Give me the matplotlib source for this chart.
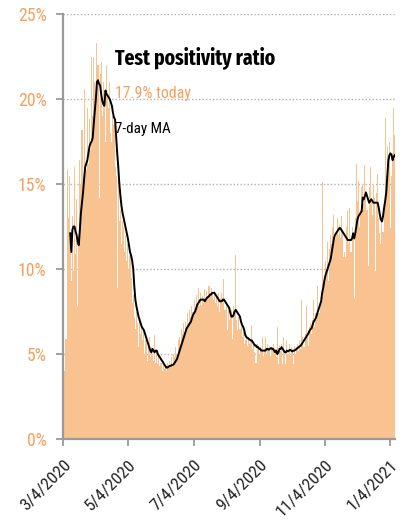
import os
import matplotlib
matplotlib.use("Agg")
import matplotlib.pyplot as plt
import matplotlib.transforms as mtransforms
from matplotlib import font_manager as fm
import numpy as np
import pandas as pd

# ---------------- data ----------------
start_date = "2020-03-04"

daily_pct = [
    17.0, 4.0, 5.9, 15.9, 13.0, 15.5, 11.0,
    9.3, 13.1, 9.9, 16.0, 10.9, 14.1, 7.8,
    12.0, 16.4, 15.0, 18.2, 14.5, 20.6, 16.0,
    15.8, 19.5, 16.2, 18.8, 17.0, 22.5, 19.0,
    22.5, 21.0, 20.0, 23.3, 22.0, 14.2, 21.5,
    22.2, 19.0, 21.0, 20.5, 17.5, 22.0, 20.2,
    19.5, 21.0, 18.0, 17.5, 19.0, 18.5, 16.0,
    15.5, 8.9, 16.0, 12.8, 13.5, 11.5, 12.8,
    12.5, 11.0, 12.0, 10.5, 11.5, 10.0, 10.8,
    9.5, 8.0, 8.5, 7.2, 6.5, 7.5, 6.8,
    5.4, 7.0, 6.2, 6.6, 5.8, 6.4, 5.0,
    5.8, 4.6, 5.5, 6.0, 4.8, 5.4, 5.0,
    4.6, 6.1, 4.5, 5.2, 4.4, 5.0, 4.3,
    4.5, 4.0, 4.6, 4.1, 4.3, 4.0, 4.5,
    4.2, 4.6, 4.3, 4.8, 4.4, 5.0, 4.8,
    5.4, 5.0, 5.8, 6.0, 5.6, 6.5, 6.2,
    6.8, 6.3, 6.9, 6.5, 7.4, 6.8, 7.6,
    7.2, 7.8, 7.5, 8.2, 7.6, 8.5, 8.0,
    8.9, 7.8, 8.6, 7.9, 8.4, 8.0, 8.8,
    8.2, 8.7, 8.3, 9.0, 8.4, 8.9, 8.6,
    8.2, 8.7, 8.0, 8.4, 7.8, 8.6, 7.5,
    8.3, 8.6, 8.0, 9.4, 7.6, 8.0, 6.4,
    7.8, 7.0, 7.4, 7.6, 5.9, 7.8, 7.3,
    10.8, 7.0, 6.4, 7.2, 6.5, 6.8, 6.0,
    6.3, 5.6, 5.8, 6.2, 5.5, 6.0, 5.6,
    5.9, 6.7, 5.3, 5.7, 5.1, 4.5, 5.6,
    5.5, 5.0, 5.4, 5.1, 6.0, 4.9, 5.3,
    6.0, 5.0, 5.6, 5.2, 5.5, 4.9, 5.4,
    5.6, 5.0, 5.3, 4.8, 6.6, 4.4, 5.5,
    5.2, 5.6, 4.4, 6.0, 5.0, 4.4, 5.8,
    5.0, 5.6, 4.9, 5.4, 5.3, 4.4, 5.5,
    5.0, 5.4, 5.6, 5.2, 5.8, 5.3, 8.2,
    6.0, 5.4, 6.2, 7.8, 6.0, 5.5, 6.6,
    6.8, 6.2, 7.0, 8.2, 6.6, 7.4, 7.0,
    9.0, 7.4, 8.0, 8.6, 15.1, 8.8, 9.5,
    10.5, 10.0, 11.6, 9.3, 11.2, 12.0, 11.5,
    12.5, 13.2, 11.8, 12.2, 13.0, 12.0, 12.6,
    11.8, 13.1, 12.2, 10.7, 11.0, 10.7, 12.5,
    13.4, 11.5, 13.6, 11.0, 12.5, 11.8, 8.3,
    13.0, 16.2, 14.0, 15.2, 12.5, 13.5, 14.8,
    15.0, 13.8, 16.1, 14.6, 13.5, 10.2, 14.8,
    16.0, 14.0, 13.2, 15.0, 14.2, 9.9, 14.5,
    15.6, 13.0, 12.1, 11.5, 13.0, 12.2, 14.0,
    18.9, 15.5, 17.2, 16.0, 17.5, 12.4, 15.5,
    16.8, 19.5, 17.9,
]

# 7-day moving average, starting on the 7th day
ma7_pct = [
    12.1,
    11.0, 12.3, 12.5, 12.5, 12.2, 12.0, 11.6,
    11.4, 12.3, 13.3, 13.9, 14.5, 15.3, 16.0,
    16.2, 16.4, 16.8, 17.2, 17.4, 17.5, 17.7,
    18.5, 19.3, 20.0, 21.0, 21.1, 20.9, 20.8,
    20.3, 19.9, 19.7, 19.6, 20.5, 20.3, 20.2,
    20.1, 20.0, 19.8, 19.6, 19.2, 18.9, 18.8,
    17.8, 16.8, 16.0, 15.0, 14.3, 13.7, 13.3,
    13.0, 12.7, 12.4, 12.1, 11.8, 11.4, 11.0,
    10.8, 10.5, 10.0, 9.0, 8.2, 7.8, 7.5,
    7.2, 7.0, 6.8, 6.6, 6.5, 6.4, 6.2,
    6.0, 5.8, 5.6, 5.4, 5.2, 5.1, 5.3,
    5.2, 5.1, 5.2, 5.2, 5.0, 4.9, 4.8,
    4.7, 4.6, 4.5, 4.4, 4.3, 4.2, 4.2,
    4.25, 4.3, 4.3, 4.35, 4.35, 4.4, 4.5,
    4.6, 4.7, 4.9, 5.1, 5.3, 5.5, 5.7,
    5.9, 6.1, 6.3, 6.5, 6.6, 6.7, 6.8,
    6.9, 7.1, 7.3, 7.4, 7.5, 7.7, 7.9,
    8.0, 8.1, 8.2, 8.2, 8.2, 8.2, 8.1,
    8.2, 8.3, 8.35, 8.4, 8.5, 8.5, 8.6,
    8.6, 8.6, 8.5, 8.4, 8.3, 8.2, 8.1,
    8.1, 8.1, 8.2, 8.2, 8.1, 8.0, 7.9,
    7.8, 7.7, 7.4, 7.2, 7.2, 7.3, 7.5,
    7.6, 7.5, 7.4, 7.3, 7.2, 6.9, 6.7,
    6.6, 6.4, 6.1, 6.0, 5.95, 5.9, 5.85,
    5.8, 5.8, 5.7, 5.6, 5.5, 5.5, 5.4,
    5.4, 5.3, 5.3, 5.2, 5.2, 5.2, 5.2,
    5.2, 5.3, 5.3, 5.25, 5.3, 5.35, 5.3,
    5.3, 5.2, 5.1, 5.2, 5.0, 5.1, 5.3,
    5.3, 5.4, 5.3, 5.2, 5.1, 5.1, 5.2,
    5.15, 5.2, 5.25, 5.2, 5.15, 5.2, 5.2,
    5.25, 5.3, 5.35, 5.4, 5.45, 5.5, 5.6,
    5.7, 5.8, 5.9, 6.0, 6.1, 6.2, 6.35,
    6.45, 6.5, 6.7, 6.9, 7.0, 7.1, 7.3,
    7.5, 7.7, 7.9, 8.1, 8.6, 8.9, 9.3,
    9.6, 9.8, 10.0, 10.2, 10.4, 10.6, 11.0,
    11.4, 11.8, 12.0, 12.1, 12.2, 12.3, 12.4,
    12.4, 12.3, 12.2, 12.1, 12.0, 11.9, 11.8,
    11.7, 11.7, 11.7, 11.7, 11.8, 12.1, 11.8,
    12.1, 12.5, 12.9, 13.1, 13.2, 13.3, 13.4,
    14.2, 14.1, 14.3, 14.5, 14.3, 14.1, 13.9,
    14.0, 14.1, 14.0, 13.9, 13.9, 13.9, 13.9,
    13.9, 13.6, 13.2, 12.9, 12.8, 13.1, 13.6,
    14.0, 14.5, 15.5, 16.4, 16.7, 16.8, 16.7,
    16.4, 16.6, 16.7,
]

y_ticks = [0, 5, 10, 15, 20, 25]
y_tick_labels = ["0%", "5%", "10%", "15%", "20%", "25%"]
x_tick_dates = ["2020-03-04", "2020-05-04", "2020-07-04", "2020-09-04", "2020-11-04", "2021-01-04"]
x_tick_labels = ["3/4/2020", "5/4/2020", "7/4/2020", "9/4/2020", "11/4/2020", "1/4/2021"]

title_text = "Test positivity ratio"
today_text = "17.9% today"
ma_text = "7-day MA"

# ---------------- fonts (prefer a condensed face) ----------------
def _wt(f):
    w = f.weight
    if isinstance(w, str):
        w = fm.weight_dict.get(w, 400)
    return int(w)

def _is_cond(f):
    s = f.stretch
    if isinstance(s, str) and "condensed" in s:
        return True
    if isinstance(s, (int, float)) and s < 500:
        return True
    n = (f.name + " " + os.path.basename(f.fname)).lower()
    return ("condensed" in n) or ("narrow" in n)

def pick_font(bold, want_extra=False):
    pref = ["liberation sans narrow", "roboto condensed", "open sans condensed",
            "noto sans", "open sans", "roboto", "dejavu sans", "lato", "inter"]
    best, best_score = None, None
    for f in fm.fontManager.ttflist:
        if not f.fname.lower().endswith((".ttf", ".otf")):
            continue
        if f.style != "normal" or not _is_cond(f):
            continue
        fam = f.name.lower()
        rank = next((i for i, p in enumerate(pref) if fam.startswith(p)), len(pref))
        base = os.path.basename(f.fname).lower()
        extra = 1 if ("extra" in base or "ultra" in base) else 0
        if want_extra:
            extra = 1 - extra
        semi = 1 if "semi" in base else 0
        w = _wt(f)
        wdiff = abs(w - (700 if bold else 400))
        score = (wdiff // 100, extra, semi, rank)
        if best_score is None or score < best_score:
            best, best_score = f, score
    if best is not None and (best_score[0] <= 1):
        return fm.FontProperties(fname=best.fname)
    return fm.FontProperties(family="Liberation Sans", weight="bold" if bold else "normal")

fp_bold = pick_font(True, want_extra=True)
fp_reg = pick_font(False)

BAR = "#F9C291"
ORANGE = "#F4A05E"
GRAY = "#9a9a9a"

dates = pd.date_range(start_date, periods=len(daily_pct), freq="D")
ma_dates = dates[len(daily_pct) - len(ma7_pct):]

fig = plt.figure(figsize=(4.12, 5.21), dpi=100)
renderer = fig.canvas.get_renderer()

def size_for(s, prop, target_px):
    p = prop.copy()
    p.set_size(10)
    w, h, d = renderer.get_text_width_height_descent(s, p, ismath=False)
    return 10.0 * target_px / w

def fp_sized(prop, size):
    p = prop.copy()
    p.set_size(size)
    return p

ax = fig.add_axes([63.3 / 412, 82 / 521, 332 / 412, 425 / 521])

ax.bar(dates, daily_pct, width=1.0, align="edge", color=BAR, linewidth=0,
       antialiased=False, zorder=2)
ax.plot(ma_dates + pd.Timedelta(hours=12), ma7_pct, color="black", lw=1.4, zorder=3)

ax.set_ylim(0, 25)
ax.set_xlim(dates[0], dates[-1] + pd.Timedelta(days=1))
ax.set_yticks(y_ticks)
ax.set_yticklabels(y_tick_labels)
ax.set_xticks(pd.to_datetime(x_tick_dates))
ax.set_xticklabels(x_tick_labels, rotation=45, ha="right", rotation_mode="anchor")

ytick_fp = fp_sized(fp_reg, size_for("25%", fp_reg, 28.6))
xtick_fp = fp_sized(fp_reg, size_for("3/4/2020", fp_reg, 64.0))
for lbl in ax.get_yticklabels():
    lbl.set_fontproperties(ytick_fp)
    lbl.set_color(ORANGE)
shift = mtransforms.ScaledTranslation(-2 / 100, 0, fig.dpi_scale_trans)
for lbl in ax.get_xticklabels():
    lbl.set_fontproperties(xtick_fp)
    lbl.set_color("#222222")
    lbl.set_transform(lbl.get_transform() + shift)

ax.set_axisbelow(True)
ax.yaxis.grid(True, linestyle=(0, (1, 1.5)), color="#b0b0b0", lw=1.0)
ax.xaxis.grid(False)
for s in ["top", "right"]:
    ax.spines[s].set_visible(False)
for s in ["left", "bottom"]:
    ax.spines[s].set_color(GRAY)
    ax.spines[s].set_linewidth(1.6)
    ax.spines[s].set_zorder(4)
ax.tick_params(axis="both", colors=GRAY, length=5, width=1.3, direction="out")
ax.tick_params(axis="y", labelcolor=ORANGE, pad=7)
ax.tick_params(axis="x", labelcolor="#222222", pad=8)

ax.text(0.156, 0.882, title_text, transform=ax.transAxes,
        fontproperties=fp_sized(fp_bold, size_for(title_text, fp_bold, 161)),
        color="black", va="baseline", ha="left")
ax.text(0.156, 0.803, today_text, transform=ax.transAxes,
        fontproperties=fp_sized(fp_reg, size_for(today_text, fp_reg, 75)),
        color=ORANGE, va="baseline", ha="left")
ax.text(0.156, 0.72, ma_text, transform=ax.transAxes,
        fontproperties=fp_sized(fp_reg, size_for(ma_text, fp_reg, 56)),
        color="black", va="baseline", ha="left")

fig.savefig("out.png", dpi=100)
